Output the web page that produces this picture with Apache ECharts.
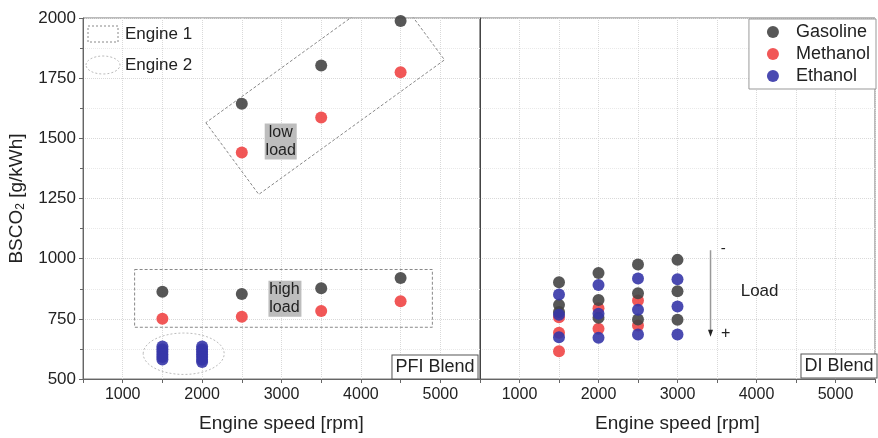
<!DOCTYPE html>
<html>
<head>
<meta charset="utf-8">
<script src="https://cdn.jsdelivr.net/npm/echarts@6/dist/echarts.min.js"></script>
<style>
	html, body { margin: 0; padding: 0; background: #fff; }
	#chart { width: 878px; height: 438px; }
</style>
</head>
<body>
<div id="chart"></div>
<script>
// PFI blend (left panel), [rpm, g/kWh]
var pfiGasoline = [[1500, 863], [2500, 853], [3500, 877], [4500, 920], [2500, 1644], [3500, 1803], [4500, 1988]];
var pfiMethanol = [[1500, 750], [2500, 759], [3500, 783], [4500, 823], [2500, 1441], [3500, 1587], [4500, 1775]];
var pfiEthanol = [
	[1500, 635], [1500, 624], [1500, 613], [1500, 602], [1500, 591], [1500, 581],
	[2000, 635], [2000, 624], [2000, 613], [2000, 602], [2000, 591], [2000, 580], [2000, 571]
];

// DI blend (right panel)
var diGasoline = [[1500, 902], [1500, 808], [1500, 778], [2000, 940], [2000, 828], [2000, 754],
	[2500, 976], [2500, 856], [2500, 747], [3000, 995], [3000, 865], [3000, 746]];
var diMethanol = [[1500, 757], [1500, 692], [1500, 615], [2000, 794], [2000, 709], [2500, 826], [2500, 722]];
var diEthanol = [[1500, 851], [1500, 767], [1500, 673], [2000, 891], [2000, 771], [2000, 671],
	[2500, 918], [2500, 788], [2500, 685], [3000, 914], [3000, 801], [3000, 685]];

// annotation outlines (data coords)
var lowLoadBox = [[2047, 1565], [2714, 1267], [5053, 1826], [4387, 2124], [2047, 1565]];
var highLoadBox = [[1150, 955], [4900, 955], [4900, 715], [1150, 715], [1150, 955]];
var engine2Center = [1768, 605];

var legendNames = ['Gasoline', 'Methanol', 'Ethanol'];

var colors = {
	gasoline: '#454545',
	methanol: '#f04545',
	ethanol: '#3636a8',
	axis: '#666',
	grid: '#d9d9d9',
	minorGrid: '#e9e9e9',
	text: '#222'
};
var fontFamily = '"Liberation Sans", Arial, sans-serif';

function makeXAxis(gridIndex) {
	return {
		type: 'value',
		gridIndex: gridIndex,
		min: 500,
		max: 5500,
		interval: 500,
		name: 'Engine speed [rpm]',
		nameLocation: 'middle',
		nameGap: 35,
		nameTextStyle: { fontSize: 19, color: colors.text, fontFamily: fontFamily },
		axisLine: { show: true, lineStyle: { color: colors.axis } },
		axisTick: { show: true, length: 4, lineStyle: { color: colors.axis } },
		axisLabel: {
			fontSize: 16, color: colors.text, fontFamily: fontFamily, margin: 8,
			formatter: function (v) { return v % 1000 === 0 ? String(v) : ''; }
		},
		splitLine: { show: true, lineStyle: { color: colors.grid, type: 'dotted' } }
	};
}

function makeYAxis(gridIndex, showLabels) {
	return {
		type: 'value',
		gridIndex: gridIndex,
		min: 500,
		max: 2000,
		interval: 250,
		name: showLabels ? 'BSCO{sub|2} [g/kWh]' : '',
		nameLocation: 'middle',
		nameGap: 56,
		nameTextStyle: {
			fontSize: 19, color: colors.text, fontFamily: fontFamily,
			rich: { sub: { fontSize: 12, verticalAlign: 'bottom', padding: [8, 0, 0, 0], color: colors.text, fontFamily: fontFamily } }
		},
		axisLine: { show: true, lineStyle: { color: showLabels ? colors.axis : '#444' } },
		axisTick: { show: showLabels, length: 4, lineStyle: { color: colors.axis } },
		minorTick: { show: showLabels, splitNumber: 2, length: 3, lineStyle: { color: colors.axis } },
		axisLabel: {
			show: showLabels, fontSize: 17, color: colors.text, fontFamily: fontFamily, margin: 7,
			formatter: function (v) { return String(v); }
		},
		splitLine: { show: true, lineStyle: { color: colors.grid, type: 'dotted' } },
		minorSplitLine: { show: true, lineStyle: { color: colors.minorGrid, type: 'dotted' } }
	};
}

function scatter(name, color, data, axisIndex) {
	return {
		name: name,
		type: 'scatter',
		xAxisIndex: axisIndex,
		yAxisIndex: axisIndex,
		data: data,
		symbolSize: 12,
		itemStyle: { color: color, opacity: 0.9 },
		z: 3
	};
}

function outline(data, axisIndex) {
	return {
		type: 'line',
		xAxisIndex: axisIndex,
		yAxisIndex: axisIndex,
		data: data,
		symbol: 'none',
		silent: true,
		clip: true,
		animation: false,
		lineStyle: { color: '#888', width: 1, type: [3, 2] },
		z: 2
	};
}

var chart = echarts.init(document.getElementById('chart'));

chart.setOption({
	animation: false,
	textStyle: { fontFamily: fontFamily },
	grid: [
		{ left: 83, top: 18, width: 397, height: 362, show: true, borderColor: '#777', borderWidth: 1 },
		{ left: 480, top: 18, width: 397, height: 362, show: true, borderColor: '#777', borderWidth: 1 }
	],
	xAxis: [makeXAxis(0), makeXAxis(1)],
	yAxis: [makeYAxis(0, true), makeYAxis(1, false)],
	legend: {
		data: legendNames,
		orient: 'vertical',
		right: 2,
		top: 19,
		backgroundColor: '#fff',
		borderColor: '#999',
		borderWidth: 1,
		borderRadius: 0,
		padding: [4, 6, 4, 18],
		itemGap: 4,
		itemWidth: 12,
		itemHeight: 12,
		icon: 'circle',
		selectedMode: false,
		textStyle: { fontSize: 18, color: colors.text, fontFamily: fontFamily, padding: [0, 0, 0, 12] }
	},
	series: [
		outline(lowLoadBox, 0),
		outline(highLoadBox, 0),
		scatter('Methanol', colors.methanol, pfiMethanol, 0),
		scatter('Gasoline', colors.gasoline, pfiGasoline, 0),
		scatter('Ethanol', colors.ethanol, pfiEthanol, 0),
		scatter('Methanol', colors.methanol, diMethanol, 1),
		scatter('Gasoline', colors.gasoline, diGasoline, 1),
		scatter('Ethanol', colors.ethanol, diEthanol, 1)
	]
});

function px(axisIndex, pt) {
	return chart.convertToPixel({ xAxisIndex: axisIndex, yAxisIndex: axisIndex }, pt);
}

function addAnnotations() {
	var c = px(0, engine2Center);
	var cx = px(0, [engine2Center[0] + 510, engine2Center[1] + 86]);
	var lowC = px(0, [2990, 1487]);
	var highC = px(0, [3037, 833]);
	var arrowTop = px(1, [3418, 1035]);
	var arrowBot = px(1, [3418, 680]);
	var minusP = px(1, [3580, 1040]);
	var loadP = px(1, [3800, 866]);
	var plusP = px(1, [3610, 690]);

	var boxText = { fontSize: 16, lineHeight: 18, fill: '#222', fontFamily: fontFamily, align: 'center', verticalAlign: 'middle' };

	chart.setOption({
		graphic: [
			// Engine 2 ellipse
			{ type: 'ellipse', shape: { cx: c[0], cy: c[1], rx: cx[0] - c[0], ry: c[1] - cx[1] },
				style: { fill: 'none', stroke: '#bbb', lineWidth: 1, lineDash: [2, 2] }, z: 1 },
			// low / high load labels
			{ type: 'rect', shape: { x: lowC[0] - 16, y: lowC[1] - 18, width: 32, height: 36 }, style: { fill: '#bdbdbd' }, z: 5 },
			{ type: 'text', x: lowC[0], y: lowC[1], style: Object.assign({ text: 'low\nload' }, boxText), z: 6 },
			{ type: 'rect', shape: { x: highC[0] - 16, y: highC[1] - 18, width: 33, height: 36 }, style: { fill: '#bdbdbd' }, z: 5 },
			{ type: 'text', x: highC[0], y: highC[1], style: Object.assign({ text: 'high\nload' }, boxText), z: 6 },
			// Engine legend (upper-left)
			{ type: 'rect', shape: { x: 88, y: 26, width: 30, height: 16 }, style: { fill: '#fff', stroke: '#888', lineWidth: 1, lineDash: [2, 2] }, z: 5 },
			{ type: 'text', x: 125, y: 34, style: { text: 'Engine 1', fontSize: 17, fill: '#222', fontFamily: fontFamily, verticalAlign: 'middle' }, z: 5 },
			{ type: 'ellipse', shape: { cx: 103, cy: 65, rx: 17, ry: 9 }, style: { fill: '#fff', stroke: '#bbb', lineWidth: 1, lineDash: [2, 2] }, z: 5 },
			{ type: 'text', x: 125, y: 65, style: { text: 'Engine 2', fontSize: 17, fill: '#222', fontFamily: fontFamily, verticalAlign: 'middle' }, z: 5 },
			// panel tags
			{ type: 'text', x: 435, y: 367, style: { text: 'PFI Blend', fontSize: 18, fill: '#222', fontFamily: fontFamily,
				align: 'center', verticalAlign: 'middle', backgroundColor: '#fff', borderColor: '#555', borderWidth: 1, padding: [3, 3, 2, 3] }, z: 5 },
			{ type: 'text', x: 839, y: 366, style: { text: 'DI Blend', fontSize: 18, fill: '#222', fontFamily: fontFamily,
				align: 'center', verticalAlign: 'middle', backgroundColor: '#fff', borderColor: '#555', borderWidth: 1, padding: [3, 3, 2, 3] }, z: 5 },
			// load arrow
			{ type: 'line', shape: { x1: arrowTop[0], y1: arrowTop[1], x2: arrowBot[0], y2: arrowBot[1] - 4 }, style: { stroke: '#999', lineWidth: 1.5 }, z: 5 },
			{ type: 'polygon', shape: { points: [[arrowBot[0] - 2.5, arrowBot[1] - 6], [arrowBot[0] + 2.5, arrowBot[1] - 6], [arrowBot[0], arrowBot[1] + 1]] }, style: { fill: '#222' }, z: 5 },
			{ type: 'text', x: minusP[0], y: minusP[1], style: { text: '-', fontSize: 15, fill: '#222', fontFamily: fontFamily, align: 'center', verticalAlign: 'middle' }, z: 5 },
			{ type: 'text', x: loadP[0], y: loadP[1], style: { text: 'Load', fontSize: 17, fill: '#222', fontFamily: fontFamily, align: 'left', verticalAlign: 'middle' }, z: 5 },
			{ type: 'text', x: plusP[0], y: plusP[1], style: { text: '+', fontSize: 16, fill: '#222', fontFamily: fontFamily, align: 'center', verticalAlign: 'middle' }, z: 5 }
		]
	});
}
addAnnotations();
</script>
</body>
</html>
